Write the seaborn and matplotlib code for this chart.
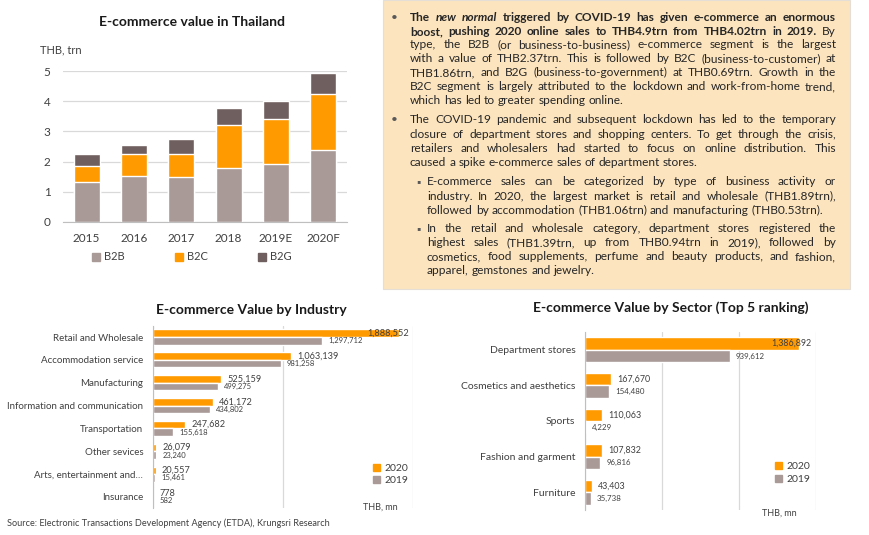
import matplotlib
matplotlib.use('Agg')
import matplotlib.pyplot as plt
from matplotlib.patches import Patch, Rectangle
import seaborn as sns
import pandas as pd

W, H = 870, 535

# top chart: e-commerce value in Thailand (THB trn)
years = ['2015', '2016', '2017', '2018', '2019E', '2020F']
b2b = [1.31, 1.52, 1.50, 1.80, 1.91, 2.37]
b2c = [0.53, 0.72, 0.76, 1.42, 1.51, 1.86]
b2g = [0.40, 0.32, 0.50, 0.55, 0.60, 0.69]

# by industry (THB mn)
industries = ['Retail and Wholesale', 'Accommodation service', 'Manufacturing',
              'Information and communication', 'Transportation', 'Other sevices',
              'Arts, entertainment and…', 'Insurance']
ind_2020 = [1888552, 1063139, 525159, 461172, 247682, 26079, 20557, 778]
ind_2019 = [1297712, 981258, 499275, 434802, 155618, 23240, 15461, 582]

# by sector, top 5 (THB mn)
sectors = ['Department stores', 'Cosmetics and aesthetics', 'Sports',
           'Fashion and garment', 'Furniture']
sec_2020 = [1386892, 167670, 110063, 107832, 43403]
sec_2019 = [939612, 154480, 4229, 96816, 35738]

ORANGE = '#FF9A00'
B2B_C = '#A99A97'
B2G_C = '#6F5F5E'
GRID = '#D9D9D9'
TXT = '#404040'
BOX_BG = '#FCE4BE'
BOX_TXT = '#262626'

sns.set_style('white')
plt.rcParams['font.family'] = ['Lato', 'DejaVu Sans']


def rect(l, t, r, b):
    return [l / W, 1 - b / H, (r - l) / W, (b - t) / H]


def fx(x):
    return x / W


def fy(y):
    return 1 - y / H


fig = plt.figure(figsize=(W / 100, H / 100), dpi=100)
fig.patch.set_facecolor('white')
renderer = fig.canvas.get_renderer()

# ---------- top chart ----------
ax1 = fig.add_axes(rect(63, 71, 347, 222))
tot = [a + b + c for a, b, c in zip(b2b, b2c, b2g)]
mid = [a + b for a, b in zip(b2b, b2c)]
for vals, col in [(tot, B2G_C), (mid, ORANGE), (b2b, B2B_C)]:
    sns.barplot(x=years, y=vals, color=col, saturation=1, width=0.55, ax=ax1)
ax1.set_ylim(0, 5)
ax1.set_xlim(-0.5, 5.5)
ax1.set_yticks(range(6))
ax1.yaxis.grid(True, color=GRID, lw=0.9)
ax1.set_axisbelow(True)
for s in ['top', 'right', 'left']:
    ax1.spines[s].set_visible(False)
ax1.spines['bottom'].set_color('#BFBFBF')
ax1.tick_params(axis='y', length=0, pad=9, labelsize=8.5, labelcolor=TXT)
ax1.tick_params(axis='x', length=0, pad=8, labelsize=8.5, labelcolor=TXT)
ax1.set_xlabel('')
ax1.set_ylabel('')

fig.text(fx(192), fy(22), 'E-commerce value in Thailand', ha='center', va='center',
         fontsize=10, fontweight='bold', color='#1A1A1A')
fig.text(fx(40), fy(50), 'THB, trn', ha='left', va='center', fontsize=8, color=TXT)
fig.legend([Patch(color=B2B_C), Patch(color=ORANGE), Patch(color=B2G_C)],
           ['B2B', 'B2C', 'B2G'], loc='center', bbox_to_anchor=(fx(192), fy(257)),
           ncol=3, frameon=False, handlelength=0.7, handleheight=0.7,
           handletextpad=0.4, columnspacing=4.5, fontsize=8, labelcolor=TXT)


# ---------- grouped horizontal bars ----------
def hbars(ax, cats, v20, v19, xmax, step, width, fs_cat, fs20, fs19):
    df = pd.DataFrame({'cat': cats * 2,
                       'year': ['2020'] * len(cats) + ['2019'] * len(cats),
                       'value': v20 + v19})
    sns.barplot(data=df, y='cat', x='value', hue='year', hue_order=['2020', '2019'],
                palette=[ORANGE, B2B_C], saturation=1, width=width, orient='h',
                legend=False, ax=ax)
    ax.set_xlim(0, xmax)
    ax.set_ylim(len(cats) - 0.5, -0.5)
    ax.set_xticks([i * step for i in range(int(round(xmax / step)) + 1)])
    ax.xaxis.grid(True, color=GRID, lw=0.9)
    ax.set_axisbelow(True)
    for s in ['top', 'right', 'bottom']:
        ax.spines[s].set_visible(False)
    ax.spines['left'].set_color('#BFBFBF')
    ax.tick_params(axis='x', length=0, labelbottom=False)
    ax.tick_params(axis='y', length=0, pad=7, labelsize=fs_cat, labelcolor=TXT)
    ax.set_xlabel('')
    ax.set_ylabel('')
    for cont, vals, fs in zip(ax.containers, [v20, v19], [fs20, fs19]):
        for p, v in zip(cont.patches, vals):
            yc = p.get_y() + p.get_height() / 2
            if v > 0.85 * xmax:
                ax.annotate(f'{v:,}', (xmax, yc), xytext=(-3, 0), textcoords='offset points',
                            ha='right', va='center', fontsize=fs, color=TXT)
            else:
                ax.annotate(f'{v:,}', (v, yc), xytext=(4.5, 0), textcoords='offset points',
                            ha='left', va='center', fontsize=fs, color=TXT)


ax2 = fig.add_axes(rect(153, 325.6, 413, 508.4))
hbars(ax2, industries, ind_2020, ind_2019, 2000000, 1000000, 0.66, 7, 6.6, 5.5)
fig.text(fx(251), fy(310), 'E-commerce Value by Industry', ha='center', va='center',
         fontsize=10, fontweight='bold', color='#1A1A1A')
fig.legend([Patch(color=ORANGE), Patch(color=B2B_C)], ['2020', '2019'],
           loc='center left', bbox_to_anchor=(fx(368), fy(474.5)), frameon=False,
           handlelength=0.7, handleheight=0.7, handletextpad=0.4, labelspacing=0.3,
           borderpad=0, fontsize=7.5, labelcolor=TXT)
fig.text(fx(380), fy(507), 'THB, mn', ha='center', va='center', fontsize=6.5, color=TXT)

ax3 = fig.add_axes(rect(585, 332, 816, 510))
hbars(ax3, sectors, sec_2020, sec_2019, 1500000, 500000, 0.70, 7.5, 6.4, 5.7)
fig.text(fx(671), fy(308), 'E-commerce Value by Sector (Top 5 ranking)', ha='center',
         va='center', fontsize=10, fontweight='bold', color='#1A1A1A')
fig.legend([Patch(color=ORANGE), Patch(color=B2B_C)], ['2020', '2019'],
           loc='center left', bbox_to_anchor=(fx(770), fy(473)), frameon=False,
           handlelength=0.7, handleheight=0.7, handletextpad=0.4, labelspacing=0.3,
           borderpad=0, fontsize=7.5, labelcolor=TXT)
fig.text(fx(779), fy(513), 'THB, mn', ha='center', va='center', fontsize=6.5, color=TXT)

fig.text(fx(7), fy(523), 'Source: Electronic Transactions Development Agency (ETDA), '
         'Krungsri Research', ha='left', va='center', fontsize=6.6, color=TXT)

# ---------- text box ----------
fig.add_artist(Rectangle((fx(383), fy(289)), fx(850) - fx(383), fy(0) - fy(289),
                         transform=fig.transFigure, facecolor=BOX_BG,
                         edgecolor='#E4DED6', lw=0.8, zorder=0))

paras = [
    (394, '•', 410, [
        [('The ', 'b'), ('new normal', 'bi'),
         (' triggered by COVID-19 has given e-commerce an enormous', 'b')],
        [('boost, pushing 2020 online sales to THB4.9trn from THB4.02trn in 2019.', 'b'),
         (' By', 'n')],
        [('type, the B2B (or business-to-business) e-commerce segment is the largest', 'n')],
        [('with a value of THB2.37trn. This is followed by B2C (business-to-customer) at', 'n')],
        [('THB1.86trn, and B2G (business-to-government) at THB0.69trn. Growth in the', 'n')],
        [('B2C segment is largely attributed to the lockdown and work-from-home trend,', 'n')],
        [('which has led to greater spending online.', 'n')],
    ], [17.5, 31.5, 45, 59, 73, 87, 101]),
    (394, '•', 410, [
        [('The COVID-19 pandemic and subsequent lockdown has led to the temporary', 'n')],
        [('closure of department stores and shopping centers. To get through the crisis,', 'n')],
        [('retailers and wholesalers had started to focus on online distribution. This', 'n')],
        [('caused a spike e-commerce sales of department stores.', 'n')],
    ], [119.5, 134, 148, 162.5]),
    (418, '▪', 427, [
        [('E-commerce sales can be categorized by type of business activity or', 'n')],
        [('industry. In 2020, the largest market is retail and wholesale (THB1.89trn),', 'n')],
        [('followed by accommodation (THB1.06trn) and manufacturing (THB0.53trn).', 'n')],
    ], [182, 196, 210]),
    (418, '▪', 427, [
        [('In the retail and wholesale category, department stores registered the', 'n')],
        [('highest sales (THB1.39trn, up from THB0.94trn in 2019), followed by', 'n')],
        [('cosmetics, food supplements, perfume and beauty products, and fashion,', 'n')],
        [('apparel, gemstones and jewelry.', 'n')],
    ], [228.5, 242.5, 256.5, 270.5]),
]
X_RIGHT = 836
STY = {'n': ('normal', 'normal'), 'b': ('bold', 'normal'), 'bi': ('bold', 'italic')}


def measure(s, size, st='n'):
    wt, sl = STY[st]
    t = fig.text(0, 0, s, fontsize=size, fontweight=wt, fontstyle=sl)
    w = t.get_window_extent(renderer).width
    t.remove()
    return w


def natural(segs, size):
    return sum(measure(s, size, st) for s, st in segs)


# fit the regular-weight lines; bold lines shrink on their own if needed
base = 8.6
worst = 0
for bx, sym, x0, lines, ys in paras:
    for segs in lines:
        if all(st == 'n' for _, st in segs):
            worst = max(worst, natural(segs, base) / (X_RIGHT - x0))
size = base * min(1.0, 0.995 / worst)
space = measure('a a', size) - measure('aa', size)

for bx, sym, x0, lines, ys in paras:
    fig.text(fx(bx), fy(ys[0] + 3.5), sym, ha='center', va='baseline',
             fontsize=size * (0.9 if sym == '▪' else 1.0), color='#595959')
    for k, (segs, y) in enumerate(zip(lines, ys)):
        lsize = size
        ratio = natural(segs, size) / (X_RIGHT - x0)
        if ratio > 0.97:
            lsize = size * 0.97 / ratio
        justify = k < len(lines) - 1
        words = [(w, st) for s, st in segs for w in s.split()]
        texts, widths = [], []
        for w, st in words:
            wt, sl = STY[st]
            t = fig.text(0, fy(y + 3.5), w, fontsize=lsize, fontweight=wt, fontstyle=sl,
                         color=BOX_TXT, ha='left', va='baseline')
            texts.append(t)
            widths.append(t.get_window_extent(renderer).width)
        gap = space
        if justify and len(words) > 1:
            gap = (X_RIGHT - x0 - sum(widths)) / (len(words) - 1)
        x = x0
        for t, w in zip(texts, widths):
            t.set_x(fx(x))
            x += w + gap

fig.savefig('out.png', dpi=100)
